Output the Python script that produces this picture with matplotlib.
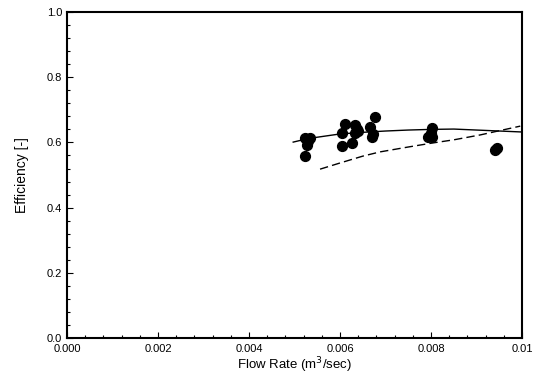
import matplotlib
matplotlib.use("Agg")
import matplotlib.pyplot as plt
from matplotlib.ticker import MultipleLocator

plt.rcParams['font.family'] = ['Liberation Sans', 'DejaVu Sans']

# measured points
flow = [0.00523, 0.00534, 0.00527, 0.00523, 0.00530,
        0.00604, 0.00611, 0.00604, 0.00626, 0.00633, 0.00637, 0.00633, 0.00640,
        0.00677, 0.00666, 0.00670, 0.00672,
        0.00802, 0.00802, 0.00793, 0.00800,
        0.00941, 0.00945]
eff = [0.613, 0.613, 0.592, 0.558, 0.605,
       0.629, 0.656, 0.589, 0.598, 0.653, 0.641, 0.629, 0.635,
       0.678, 0.647, 0.617, 0.625,
       0.644, 0.617, 0.617, 0.630,
       0.577, 0.583]

# solid curve
solid_x = [0.00497, 0.0053, 0.0060, 0.0065, 0.0070, 0.0075, 0.0080, 0.0085, 0.0090, 0.0095, 0.0100]
solid_y = [0.601, 0.612, 0.626, 0.631, 0.635, 0.638, 0.640, 0.641, 0.638, 0.635, 0.632]

# dashed curve
dash_x = [0.00556, 0.0060, 0.0065, 0.00688, 0.0075, 0.00802, 0.0085, 0.00908, 0.00996]
dash_y = [0.518, 0.537, 0.558, 0.571, 0.586, 0.598, 0.608, 0.623, 0.650]

xticks = [0.0, 0.002, 0.004, 0.006, 0.008, 0.01]
xtick_labels = ['0.000', '0.002', '0.004', '0.006', '0.008', '0.01']
yticks = [0.0, 0.2, 0.4, 0.6, 0.8, 1.0]
ytick_labels = ['0.0', '0.2', '0.4', '0.6', '0.8', '1.0']

fig = plt.figure(figsize=(5.41, 3.76), dpi=100)
ax = fig.add_axes([0.124, 0.101, 0.841, 0.867])

ax.plot(solid_x, solid_y, color='black', lw=1.0)
ax.plot(dash_x, dash_y, color='black', lw=1.0, dashes=(6, 3))
ax.scatter(flow, eff, s=50, color='black', zorder=3)

ax.set_xlim(0, 0.01)
ax.set_ylim(0, 1.0)
ax.set_xticks(xticks)
ax.set_xticklabels(xtick_labels)
ax.set_yticks(yticks)
ax.set_yticklabels(ytick_labels)
ax.xaxis.set_minor_locator(MultipleLocator(0.0004))
ax.yaxis.set_minor_locator(MultipleLocator(0.04))
ax.tick_params(which='both', direction='in', labelsize=8, width=0.8)
ax.tick_params(which='major', length=4)
ax.tick_params(which='minor', length=2)
ax.tick_params(axis='x', which='major', pad=4.5)
for sp in ax.spines.values():
    sp.set_linewidth(1.5)

ax.set_xlabel('Flow Rate (m$^3$/sec)', fontsize=9.5, labelpad=0.5)
ax.set_ylabel('Efficiency [-]', fontsize=10, labelpad=13)

plt.savefig('out.png', dpi=100)
